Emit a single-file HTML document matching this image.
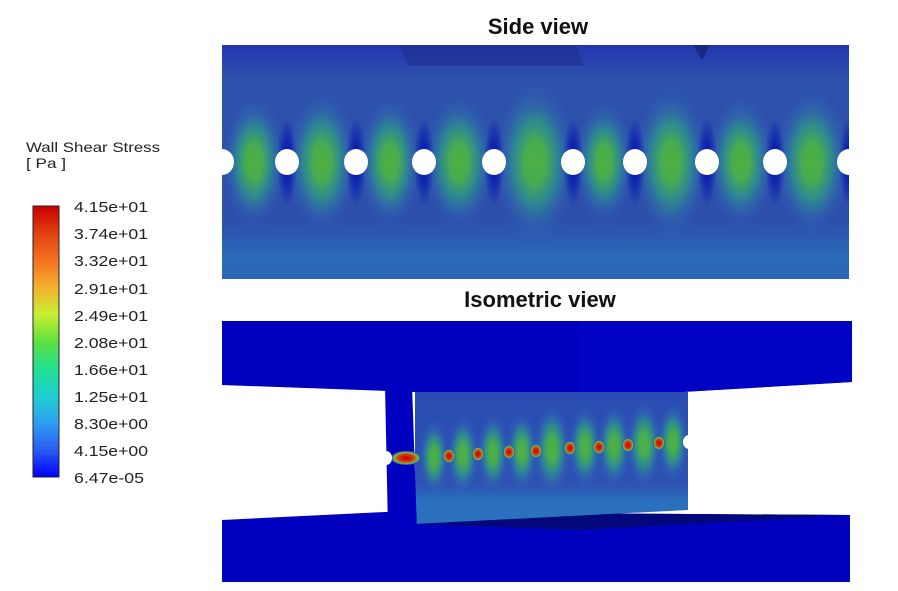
<!DOCTYPE html>
<html><head><meta charset="utf-8"><style>
body{margin:0;background:#fff;width:898px;height:586px;overflow:hidden;font-family:"Liberation Sans",sans-serif}
</style></head><body>
<svg width="898" height="586" viewBox="0 0 898 586" xmlns="http://www.w3.org/2000/svg">
<defs>
<linearGradient id="cb" x1="0" y1="1" x2="0" y2="0">
<stop offset="0" stop-color="#0000ff"/><stop offset="0.1" stop-color="#2a5cf0"/><stop offset="0.2" stop-color="#2e9ef0"/><stop offset="0.3" stop-color="#1ecfd0"/><stop offset="0.4" stop-color="#20e090"/><stop offset="0.5" stop-color="#5ee040"/><stop offset="0.6" stop-color="#c8ef30"/><stop offset="0.7" stop-color="#f5b030"/><stop offset="0.8" stop-color="#f57020"/><stop offset="0.9" stop-color="#e04010"/><stop offset="1" stop-color="#c80000"/>
</linearGradient>
<linearGradient id="sv" x1="0" y1="0" x2="0" y2="1">
<stop offset="0" stop-color="#2236b0"/><stop offset="0.15" stop-color="#2e52ac"/><stop offset="0.75" stop-color="#2e4eac"/><stop offset="0.9" stop-color="#2a6ab6"/><stop offset="1" stop-color="#2a66b4"/>
</linearGradient>
<radialGradient id="gb"><stop offset="0" stop-color="#50b040"/><stop offset="0.25" stop-color="#48ac50"/><stop offset="0.5" stop-color="#2e9a88" stop-opacity="0.75"/><stop offset="0.75" stop-color="#2e70b0" stop-opacity="0.35"/><stop offset="1" stop-color="#2e52ac" stop-opacity="0"/></radialGradient>
<radialGradient id="dk"><stop offset="0" stop-color="#0008a8"/><stop offset="0.5" stop-color="#0010b0" stop-opacity="0.6"/><stop offset="1" stop-color="#0010b0" stop-opacity="0"/></radialGradient>
<radialGradient id="rd"><stop offset="0" stop-color="#c00000"/><stop offset="0.5" stop-color="#e03010"/><stop offset="0.8" stop-color="#70c040"/><stop offset="1" stop-color="#1040c0"/></radialGradient>
<linearGradient id="pn" x1="0" y1="0" x2="0" y2="1">
<stop offset="0" stop-color="#2a4cb4"/><stop offset="0.7" stop-color="#2e52b4"/><stop offset="0.82" stop-color="#2a70bc"/><stop offset="1" stop-color="#2a70bc"/>
</linearGradient>
<clipPath id="sc"><rect x="222" y="45" width="627" height="234"/></clipPath>
<clipPath id="pc"><polygon points="415,392 688,392 688,510 415,524"/></clipPath>
</defs>

<text x="538" y="34" font-size="22" font-weight="bold" text-anchor="middle" fill="#111">Side view</text>
<text x="540" y="307" font-size="22" font-weight="bold" text-anchor="middle" fill="#111">Isometric view</text>

<g clip-path="url(#sc)">
<rect x="222" y="45" width="627" height="234" fill="url(#sv)"/>
<polygon points="400,45 576,45 584,66 408,66" fill="#1e2e90" opacity="0.6"/>
<polygon points="693,45 710,45 702,60" fill="#1a2a80"/>
<g>
<ellipse cx="254" cy="162" rx="34" ry="70" fill="url(#gb)"/>
<ellipse cx="322" cy="162" rx="38" ry="75" fill="url(#gb)"/>
<ellipse cx="390" cy="162" rx="34" ry="70" fill="url(#gb)"/>
<ellipse cx="459" cy="162" rx="38" ry="72" fill="url(#gb)"/>
<ellipse cx="535" cy="162" rx="44" ry="85" fill="url(#gb)"/>
<ellipse cx="604" cy="162" rx="32" ry="66" fill="url(#gb)"/>
<ellipse cx="671" cy="162" rx="40" ry="80" fill="url(#gb)"/>
<ellipse cx="741" cy="162" rx="36" ry="70" fill="url(#gb)"/>
<ellipse cx="812" cy="162" rx="40" ry="78" fill="url(#gb)"/>
</g>
<g fill="url(#dk)">
<ellipse cx="287" cy="162" rx="10" ry="45"/><ellipse cx="356" cy="162" rx="10" ry="45"/><ellipse cx="424" cy="162" rx="10" ry="45"/><ellipse cx="494" cy="162" rx="10" ry="45"/><ellipse cx="573" cy="162" rx="10" ry="45"/><ellipse cx="635" cy="162" rx="10" ry="45"/><ellipse cx="707" cy="162" rx="10" ry="45"/><ellipse cx="775" cy="162" rx="10" ry="45"/><ellipse cx="849" cy="162" rx="10" ry="45"/>
</g>
<g fill="#fff">
<ellipse cx="222" cy="162" rx="12" ry="13"/><ellipse cx="287" cy="162" rx="12" ry="13"/><ellipse cx="356" cy="162" rx="12" ry="13"/><ellipse cx="424" cy="162" rx="12" ry="13"/><ellipse cx="494" cy="162" rx="12" ry="13"/><ellipse cx="573" cy="162" rx="12" ry="13"/><ellipse cx="635" cy="162" rx="12" ry="13"/><ellipse cx="707" cy="162" rx="12" ry="13"/><ellipse cx="775" cy="162" rx="12" ry="13"/><ellipse cx="849" cy="162" rx="12" ry="13"/>
</g>
</g>

<polygon points="222,321 852,321 852,382 580,398 222,385" fill="#0000be"/>
<polygon points="580,321 852,321 852,382 580,398" fill="#0002c4"/>
<polygon points="222,520 385,512 850,515 850,582 222,582" fill="#0000be"/>
<polygon points="385,512 850,515 580,530 415,524" fill="#02087a"/>
<polygon points="415,392 688,392 688,510 415,524" fill="url(#pn)"/>
<g clip-path="url(#pc)">
<ellipse cx="434" cy="457" rx="16" ry="40" fill="url(#gb)"/>
<ellipse cx="463" cy="455" rx="17" ry="42" fill="url(#gb)"/>
<ellipse cx="493" cy="453" rx="17" ry="42" fill="url(#gb)"/>
<ellipse cx="522" cy="451" rx="17" ry="42" fill="url(#gb)"/>
<ellipse cx="552" cy="449" rx="20" ry="48" fill="url(#gb)"/>
<ellipse cx="585" cy="447" rx="18" ry="44" fill="url(#gb)"/>
<ellipse cx="614" cy="446" rx="18" ry="44" fill="url(#gb)"/>
<ellipse cx="644" cy="444" rx="19" ry="46" fill="url(#gb)"/>
<ellipse cx="673" cy="442" rx="17" ry="42" fill="url(#gb)"/>
</g>
<polygon points="385,385 412,385 417,530 388,530" fill="#0000c0"/>
<g fill="url(#rd)">
<ellipse cx="406" cy="458" rx="15" ry="7"/>
<ellipse cx="449" cy="456" rx="6" ry="7"/><ellipse cx="478" cy="454" rx="6" ry="7"/><ellipse cx="509" cy="452" rx="6" ry="7"/><ellipse cx="536" cy="451" rx="6" ry="7"/><ellipse cx="570" cy="448" rx="6" ry="7"/><ellipse cx="599" cy="447" rx="6" ry="7"/><ellipse cx="628" cy="445" rx="6" ry="7"/><ellipse cx="659" cy="443" rx="6" ry="7"/>
</g>
<ellipse cx="386" cy="458" rx="6" ry="7" fill="#fff"/>
<ellipse cx="689" cy="442" rx="6" ry="7" fill="#fff"/>

<g font-size="14" fill="#222">
<text x="26" y="152" textLength="134" lengthAdjust="spacingAndGlyphs">Wall Shear Stress</text>
<text x="26" y="168" textLength="40" lengthAdjust="spacingAndGlyphs">[ Pa ]</text>
</g>
<rect x="33" y="206" width="26" height="271" fill="url(#cb)" stroke="#222" stroke-width="1"/>
<g font-size="15" fill="#222" lengthAdjust="spacingAndGlyphs">
<text x="74" y="212" textLength="74" lengthAdjust="spacingAndGlyphs">4.15e+01</text>
<text x="74" y="239" textLength="74" lengthAdjust="spacingAndGlyphs">3.74e+01</text>
<text x="74" y="266" textLength="74" lengthAdjust="spacingAndGlyphs">3.32e+01</text>
<text x="74" y="294" textLength="74" lengthAdjust="spacingAndGlyphs">2.91e+01</text>
<text x="74" y="321" textLength="74" lengthAdjust="spacingAndGlyphs">2.49e+01</text>
<text x="74" y="348" textLength="74" lengthAdjust="spacingAndGlyphs">2.08e+01</text>
<text x="74" y="375" textLength="74" lengthAdjust="spacingAndGlyphs">1.66e+01</text>
<text x="74" y="402" textLength="74" lengthAdjust="spacingAndGlyphs">1.25e+01</text>
<text x="74" y="429" textLength="74" lengthAdjust="spacingAndGlyphs">8.30e+00</text>
<text x="74" y="456" textLength="74" lengthAdjust="spacingAndGlyphs">4.15e+00</text>
<text x="74" y="483" textLength="70" lengthAdjust="spacingAndGlyphs">6.47e-05</text>
</g>
</svg>
</body></html>
